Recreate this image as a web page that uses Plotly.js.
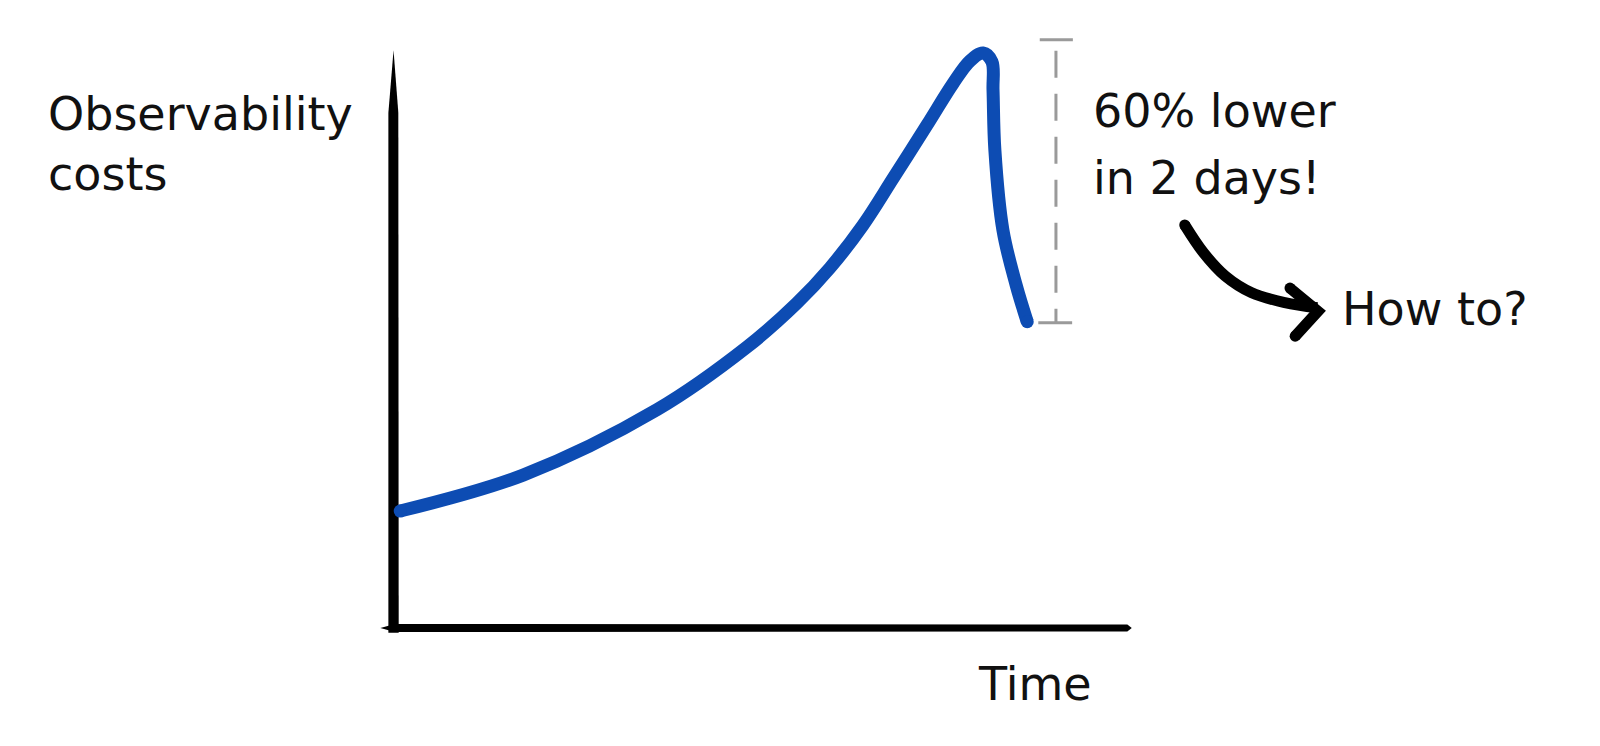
<!DOCTYPE html>
<html><head><meta charset="utf-8">
<script src="https://cdn.plot.ly/plotly-3.0.1.min.js"></script>
<style>html,body{margin:0;padding:0;background:#fff;overflow:hidden;} #chart{width:1600px;height:746px;}</style>
</head><body><div id="chart"></div>
<script>
// Sketch chart: observability costs over time (arbitrary units, 0-100)
const time = [0.7, 17.4, 35.6, 47.8, 54.6, 59.1, 63.6, 67.7, 72.3, 75.8, 78.1, 79.9, 81.1, 81.25, 81.5, 82.6, 84.4, 85.9];
const cost = [20.2, 26.4, 37.7, 48.5, 56.1, 62.2, 69.6, 77.7, 86.9, 94.0, 97.9, 99.3, 97.8, 92.9, 82.6, 68.7, 59.2, 52.9];

// Drop marker (dashed range)
const dropTime = 89.8;
const dropTop = 101.6;
const dropBottom = 52.7;

// Curved arrow towards "How to?"
const arrowTime = [107.3, 109.8, 112.8, 116.4, 120.9, 125.3];
const arrowCost = [69.6, 64.9, 60.8, 57.9, 56.2, 55.3];
const headTime = [121.6, 125.4, 122.3];
const headCost = [58.7, 54.7, 50.4];

// Texts
const yLabelLines = ["Observability", "costs"];
const xLabel = "Time";
const noteLines = ["60% lower", "in 2 days!"];
const question = "How to?";

const W = 1600, H = 746;
const px = v => v / W;           // paper helpers for text placement
const py = v => 1 - v / H;

const FONT = "DejaVu Sans, Noto Sans, sans-serif";
const FS = 46;
const BLUE = "#0d4cb3";

const traces = [
  {x: time, y: cost, mode: "lines", type: "scatter",
   line: {color: BLUE, width: 13, shape: "spline", smoothing: 1, simplify: false},
   hoverinfo: "skip", showlegend: false},
  {x: [time[0], time[time.length-1]], y: [cost[0], cost[cost.length-1]], mode: "markers", type: "scatter",
   marker: {color: BLUE, size: 13}, hoverinfo: "skip", showlegend: false},
  {x: arrowTime, y: arrowCost, mode: "lines", type: "scatter",
   line: {color: "#000", width: 11, shape: "spline", smoothing: 1, simplify: false},
   hoverinfo: "skip", showlegend: false},
  {x: headTime, y: headCost, mode: "lines", type: "scatter",
   line: {color: "#000", width: 11},
   hoverinfo: "skip", showlegend: false},
  {x: [arrowTime[0], headTime[0], headTime[2]], y: [arrowCost[0], headCost[0], headCost[2]], mode: "markers", type: "scatter",
   marker: {color: "#000", size: 11}, hoverinfo: "skip", showlegend: false}
];

function ann(text, xpx, basepx) {
  return {text: text, xref: "paper", yref: "paper", x: px(xpx), y: py(basepx - 14),
          xanchor: "left", yanchor: "middle", showarrow: false,
          font: {family: FONT, size: FS, color: "#111"}};
}

const layout = {
  width: W, height: H,
  margin: {l: 0, r: 0, t: 0, b: 0},
  paper_bgcolor: "#fff", plot_bgcolor: "#fff",
  showlegend: false,
  xaxis: {range: [-53.67, 163.72], visible: false, fixedrange: true},
  yaxis: {range: [-20.38, 108.46], visible: false, fixedrange: true},
  shapes: [
    // y axis (tapered hand-drawn stroke)
    {type: "path", xref: "x", yref: "y", layer: "below",
     path: "M -0.2,99.8 L 0.45,89 L 0.5,-0.8 L -0.9,-0.8 L -0.9,89 Z",
     fillcolor: "#000", line: {width: 0}},
    // x axis
    {type: "path", xref: "x", yref: "y", layer: "below",
     path: "M -2.0,0 L 0,0.7 L 99.5,0.6 L 100.1,0 L 99.5,-0.6 L 0,-0.7 Z",
     fillcolor: "#000", line: {width: 0}},
    // dashed drop range
    {type: "line", xref: "x", yref: "y", x0: dropTime, x1: dropTime, y0: dropTop - 1.9, y1: dropBottom,
     line: {color: "#9a9a9a", width: 3, dash: "27px,16px"}},
    {type: "line", xref: "x", yref: "y", x0: dropTime - 2.2, x1: dropTime + 2.3, y0: dropTop, y1: dropTop,
     line: {color: "#9a9a9a", width: 3}},
    {type: "line", xref: "x", yref: "y", x0: dropTime - 2.4, x1: dropTime + 2.2, y0: dropBottom, y1: dropBottom,
     line: {color: "#9a9a9a", width: 3}}
  ],
  annotations: [
    ann(yLabelLines[0], 46, 128),
    ann(yLabelLines[1], 46, 188),
    ann(noteLines[0], 1091, 125),
    ann(noteLines[1], 1091, 192),
    ann(question, 1340, 323),
    ann(xLabel, 976, 698)
  ]
};

Plotly.newPlot("chart", traces, layout, {displayModeBar: false, staticPlot: true});
</script>
</body></html>
